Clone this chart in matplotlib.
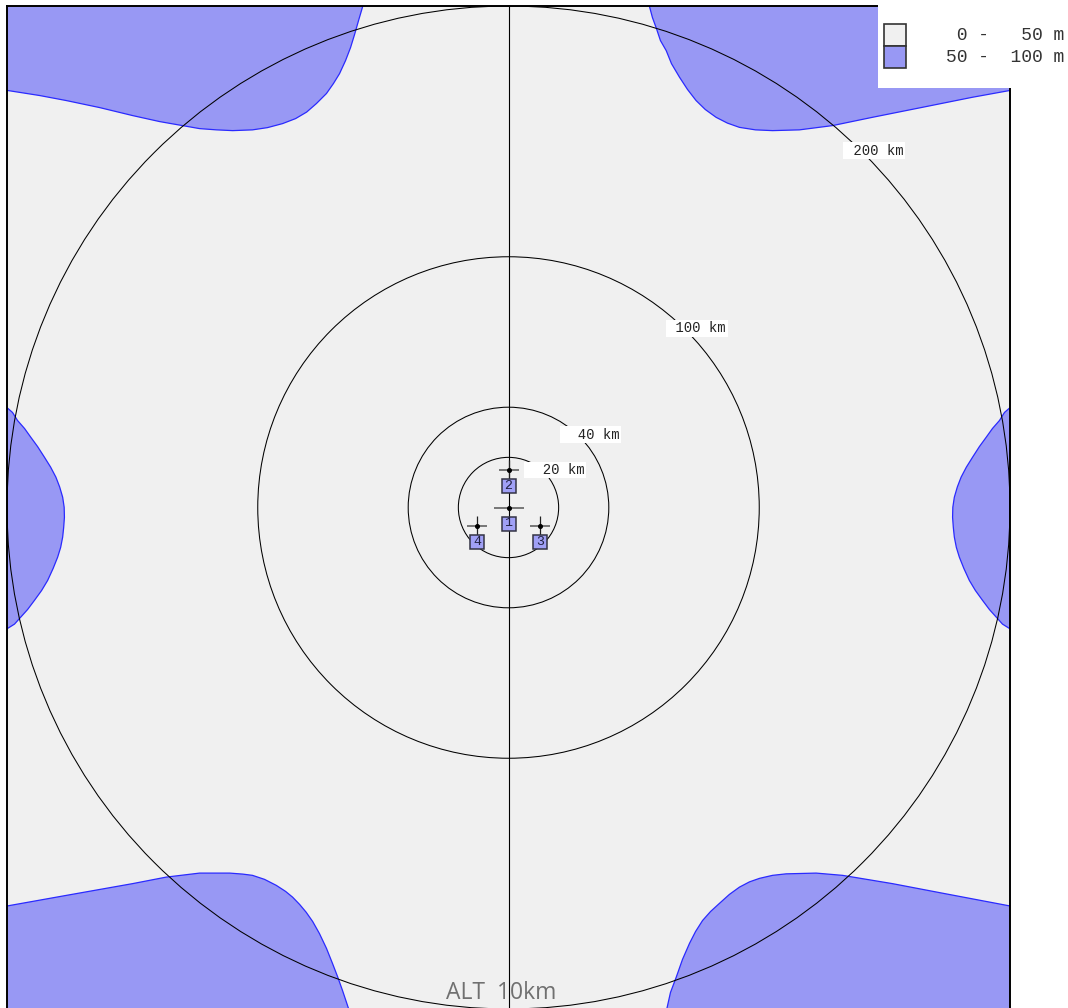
import matplotlib.pyplot as plt
from matplotlib.patches import Circle, Rectangle
from matplotlib.transforms import offset_copy
import numpy as np

# coverage map, km around the master station
ring_radii = [20, 40, 100, 200]
ring_labels = ["  20 km", "  40 km", " 100 km", " 200 km"]

station_ids = ["1", "2", "3", "4"]
station_x = [0.0, 0.0, 12.6, -12.6]
station_y = [0.0, 15.0, -7.2, -7.2]

legend_labels = [" 0 -   50 m", "50 -  100 m"]
legend_colors = ["#f0f0f0", "#9898f4"]

# 50 m contour, one boundary per lobe (km)
lobe_nw_x = [-201, -187.0, -176.4, -163.1, -149.9, -139.1, -130.0, -123.2, -116.4, -110.0, -102.1,
             -96.1, -90.1, -84.9, -80.5, -76.6, -72.6, -69.8, -67.4, -65.0, -63.0, -61.4, -59.8, -57.8]
lobe_nw_y = [166.5, 164.3, 162.3, 159.5, 156.3, 153.9, 152.3, 151.1, 150.6, 150.3, 150.6,
             151.5, 153.1, 155.1, 157.7, 161.1, 165.1, 169.1, 173.0, 178.2, 183.4, 188.6, 194.2, 201]
lobe_ne_x = [55.9, 57.4, 59.0, 60.6, 62.9, 65.0, 68.2, 71.4, 74.8, 78.5, 82.8, 87.3, 92.1, 98.5,
             105.3, 116.0, 129.2, 145.1, 165.1, 185.0, 201]
lobe_ne_y = [201, 195.4, 191.0, 186.2, 182.2, 177.0, 171.6, 166.7, 162.3, 158.7, 155.6, 153.3, 151.6, 150.6,
             150.3, 150.6, 152.3, 155.6, 159.6, 163.6, 166.5]
lobe_sw_x = [-201, -176.4, -149.9, -136.5, -123.2, -111.2, -106.0, -102.1, -97.3, -92.6, -88.9, -86.1,
             -83.3, -80.7, -78.1, -75.4, -72.6, -70.2, -68.2, -66.2, -63.4]
lobe_sw_y = [-159.1, -154.7, -150.0, -147.4, -145.8, -145.8, -146.2, -146.7, -148.3, -150.7, -153.1, -155.4,
             -158.3, -161.4, -165.1, -169.9, -175.8, -181.8, -187.0, -192.6, -201]
lobe_se_x = [62.9, 64.6, 66.9, 69.4, 72.2, 74.6, 77.4, 80.6, 84.1, 88.1, 92.1, 96.1, 100.1, 105.3,
             110.7, 122.7, 133.2, 153.1, 173.0, 201]
lobe_se_y = [-201, -193.4, -187.3, -180.2, -173.8, -169.1, -164.7, -161.1, -157.9, -154.3, -151.4, -149.3,
             -147.9, -146.7, -146.1, -145.8, -146.7, -150.0, -153.8, -159.1]
lobe_e_x = [201, 197.8, 195.8, 193.0, 190.5, 187.8, 185.1, 182.6, 180.5, 179.0, 177.8, 177.2, 177.1,
            177.4, 177.8, 178.6, 179.8, 181.6, 183.8, 186.2, 189.1, 191.8, 194.5, 197.0, 201]
lobe_e_y = [40.7, 37.9, 34.7, 31.5, 28.0, 24.3, 20.1, 16.1, 12.1, 8.2, 4.1, 0.1, -3.9,
            -8.0, -11.8, -15.9, -19.8, -24.3, -29.1, -33.1, -37.1, -40.7, -43.7, -46.5, -49.0]
lobe_w_x = [-201, -197.8, -195.8, -193.0, -190.5, -187.8, -185.1, -182.6, -180.5, -179.0, -177.8, -177.2,
            -177.1, -177.4, -177.8, -178.6, -179.8, -181.6, -183.8, -186.2, -189.1, -191.8, -194.5, -197.0, -201]
lobe_w_y = [40.7, 37.9, 34.7, 31.5, 28.0, 24.3, 20.1, 16.1, 12.1, 8.2, 4.1, 0.1,
            -3.9, -8.0, -11.8, -15.9, -19.8, -24.3, -29.1, -33.1, -37.1, -40.7, -43.7, -46.5, -49.0]

W, H = 1068, 1008
fig = plt.figure(figsize=(W / 100, H / 100), dpi=100)
fig.patch.set_facecolor("white")

ax = fig.add_axes([7 / W, -1 / H, 1003 / W, 1003 / H])
ax.set_xlim(-200, 200)
ax.set_ylim(-200, 200)
ax.set_facecolor(legend_colors[0])
ax.set_xticks([])
ax.set_yticks([])
for side in ["left", "top", "right"]:
    ax.spines[side].set_linewidth(1.4)
ax.spines["bottom"].set_visible(False)

# lobes are closed through a point outside the frame
far = 230
lobes = [
    (lobe_nw_x, lobe_nw_y, (-far, far)),
    (lobe_ne_x, lobe_ne_y, (far, far)),
    (lobe_sw_x, lobe_sw_y, (-far, -far)),
    (lobe_se_x, lobe_se_y, (far, -far)),
    (lobe_e_x, lobe_e_y, (far, 0)),
    (lobe_w_x, lobe_w_y, (-far, 0)),
]
for lx, ly, corner in lobes:
    ax.fill(lx + [corner[0]], ly + [corner[1]], color=legend_colors[1], lw=0, zorder=1)
    ax.plot(lx, ly, color="#2a2aff", lw=0.9, zorder=2, solid_joinstyle="round")

for r in ring_radii:
    ax.add_patch(Circle((0, 0), r, fill=False, ec="black", lw=0.75, zorder=3))
ax.axvline(0, color="black", lw=0.8, zorder=3)

lab_tr = offset_copy(ax.transData, fig=fig, x=11, y=2, units="dots")
c45 = np.cos(np.pi / 4)
for r, lab in zip(ring_radii, ring_labels):
    ax.text(r * c45, r * c45, lab, transform=lab_tr, ha="center", va="center",
            family="Liberation Mono", fontsize=10, color="#222222", zorder=5,
            bbox=dict(boxstyle="square,pad=0.1", fc="white", ec="none"))

# stations: crosshair at the site, numbered box below it
box_tr = offset_copy(ax.transData, fig=fig, x=0, y=-16, units="dots")
for sid, sx, sy in zip(station_ids, station_x, station_y):
    hw = 22 if sid == "1" else 15
    ax.plot(sx, sy, marker="_", ms=hw, mew=1.1, color="#555555", zorder=6)
    if sid != "1":
        ax.plot(sx, sy, marker="|", ms=14, mew=0.9, color="#222222", zorder=6)
    ax.plot(sx, sy, marker="o", ms=2.6, color="black", zorder=7)
    ax.plot(sx, sy, marker="s", ms=10.6, mfc="#a0a0f6", mec="#333344", mew=1.1,
            transform=box_tr, zorder=6)
    ax.text(sx, sy, sid, transform=box_tr, ha="center", va="center",
            family="Liberation Mono", fontsize=9.5, color="#202040", zorder=7)

# legend panel over the top right corner
fig.add_artist(Rectangle((878 / W, 1 - 88 / H), 190 / W, 88 / H,
                         transform=fig.transFigure, fc="white", ec="none", zorder=10))
for i, (lab, col) in enumerate(zip(legend_labels, legend_colors)):
    top = 24 + 22 * i
    fig.add_artist(Rectangle((884 / W, 1 - (top + 22) / H), 22 / W, 22 / H,
                             transform=fig.transFigure, fc=col, ec="#333333",
                             lw=1.2, zorder=11))
    fig.text(1064 / W, 1 - (top + 11) / H, lab, ha="right", va="center",
             family="Liberation Mono", fontsize=13, color="#333333", zorder=12)

fig.text(501 / W, 1 - 999 / H, "ALT  10km", ha="center", va="baseline",
         family="Open Sans", fontsize=16.5, color="#707070", zorder=12)

fig.savefig("out.png", dpi=100, facecolor="white")
